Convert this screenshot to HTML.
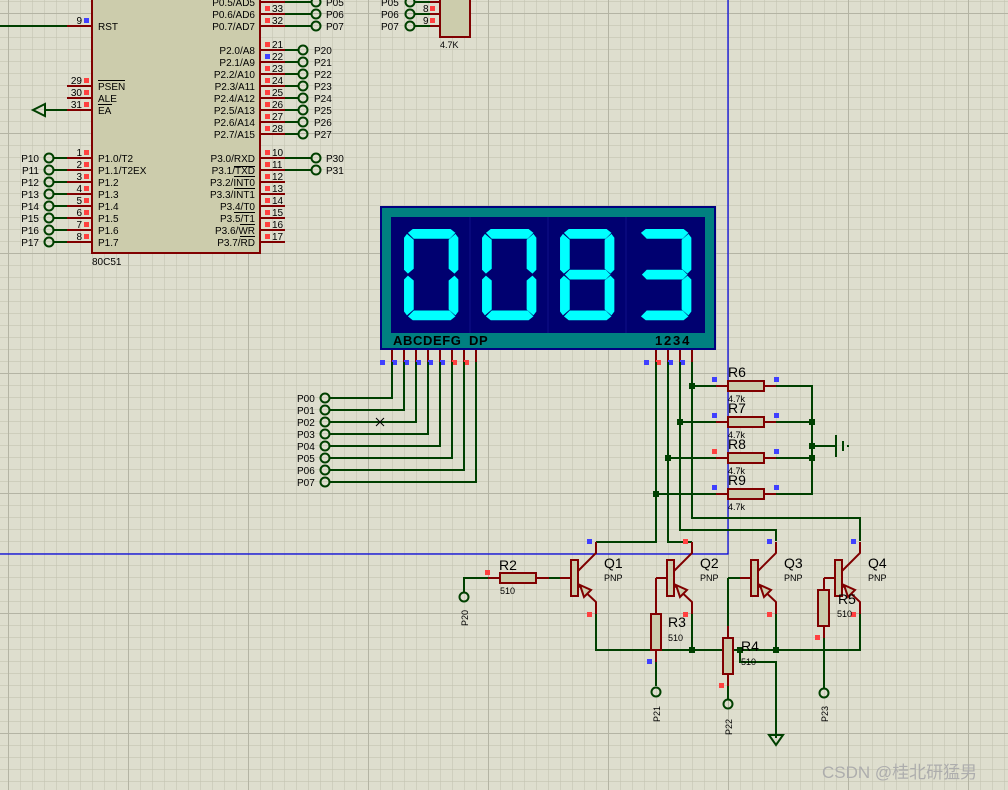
<!DOCTYPE html>
<html><head><meta charset="utf-8"><style>
html,body{margin:0;padding:0;background:#dedece;}
svg{display:block;}
text{font-family:"Liberation Sans","Noto Sans CJK SC",sans-serif;}
.p{font-size:10px;fill:#000;}
.s{font-size:9px;fill:#000;}
.b{font-size:14px;fill:#000;}
.r{stroke:#800000;stroke-width:2;fill:none;}
.g{stroke:#004000;stroke-width:2;fill:none;}
.body{fill:#ccccac;stroke:#800000;stroke-width:2;}
.c{fill:none;stroke:#004000;stroke-width:2;}
.mr{fill:#ff4040;}
.mb{fill:#4040ff;}
.seg{fill:#00ffff;}
</style></head><body>
<svg width="1008" height="790" viewBox="0 0 1008 790" xmlns="http://www.w3.org/2000/svg">
<defs>
<pattern id="mn" x="8" y="1" width="12" height="12" patternUnits="userSpaceOnUse"><path d="M0 0H12M0 0V12" stroke="#c4c4b2" stroke-width="1.2"/></pattern>
<pattern id="mj" x="8" y="13" width="120" height="120" patternUnits="userSpaceOnUse"><path d="M0 0H120M0 0V120" stroke="#b4b4a4" stroke-width="2"/></pattern>
<g id="sa"><polygon points="3,3 8,-1 47,-1 52,3 46,9 9,9"/></g>
<g id="sb"><polygon points="52,4 55,8 55,41 51,45 45,40 45,10"/></g>
<g id="sc"><polygon points="51,47 55,51 55,84 52,88 45,82 45,52"/></g>
<g id="sd"><polygon points="3,89 9,83 46,83 52,89 47,93 8,93"/></g>
<g id="se"><polygon points="3,47 9,52 9,82 2,88 -1,84 -1,51"/></g>
<g id="sf"><polygon points="2,4 9,10 9,40 3,45 -1,41 -1,8"/></g>
<g id="sg"><polygon points="4,46 9,41 46,41 51,46 46,51 9,51"/></g>
</defs>
<rect width="1008" height="790" fill="#dedece"/>
<rect width="1008" height="790" fill="url(#mn)"/>
<rect width="1008" height="790" fill="url(#mj)"/>

<path d="M728 0V554H0" stroke="#0000e0" stroke-width="1.2" fill="none"/>

<rect x="92" y="-5" width="168" height="258" class="body"/>
<text x="92" y="265" class="p">80C51</text>
<path d="M0 26H67" class="g"/><path d="M67 26H92" class="r"/>
<text x="82" y="24" class="p" text-anchor="end">9</text><rect x="84" y="18" width="5" height="5" class="mb"/>
<text x="98" y="30" class="p">RST</text>
<path d="M67 86H92M67 98H92M67 110H92" class="r"/>
<text x="82" y="84" class="p" text-anchor="end">29</text><rect x="84" y="78" width="5" height="5" class="mr"/>
<text x="82" y="96" class="p" text-anchor="end">30</text><rect x="84" y="90" width="5" height="5" class="mr"/>
<text x="82" y="108" class="p" text-anchor="end">31</text><rect x="84" y="102" width="5" height="5" class="mr"/>
<text x="98" y="90" class="p">PSEN</text><path d="M98 80.5H125" stroke="#000" stroke-width="1"/>
<text x="98" y="102" class="p">ALE</text>
<text x="98" y="114" class="p">EA</text><path d="M98 104.5H112" stroke="#000" stroke-width="1"/>
<path d="M45 110H67" class="g"/><polygon points="33,110 45,104 45,116" class="c"/>
<g>
<path d="M54 158H67M54 170H67M54 182H67M54 194H67M54 206H67M54 218H67M54 230H67M54 242H67" class="g"/>
<path d="M67 158H92M67 170H92M67 182H92M67 194H92M67 206H92M67 218H92M67 230H92M67 242H92" class="r"/>
<circle cx="49" cy="158" r="4.5" class="c"/><circle cx="49" cy="170" r="4.5" class="c"/><circle cx="49" cy="182" r="4.5" class="c"/><circle cx="49" cy="194" r="4.5" class="c"/><circle cx="49" cy="206" r="4.5" class="c"/><circle cx="49" cy="218" r="4.5" class="c"/><circle cx="49" cy="230" r="4.5" class="c"/><circle cx="49" cy="242" r="4.5" class="c"/>
<text class="p" text-anchor="end" x="39" y="162">P10</text><text class="p" text-anchor="end" x="39" y="174">P11</text><text class="p" text-anchor="end" x="39" y="186">P12</text><text class="p" text-anchor="end" x="39" y="198">P13</text><text class="p" text-anchor="end" x="39" y="210">P14</text><text class="p" text-anchor="end" x="39" y="222">P15</text><text class="p" text-anchor="end" x="39" y="234">P16</text><text class="p" text-anchor="end" x="39" y="246">P17</text>
<text class="p" text-anchor="end" x="82" y="156">1</text><text class="p" text-anchor="end" x="82" y="168">2</text><text class="p" text-anchor="end" x="82" y="180">3</text><text class="p" text-anchor="end" x="82" y="192">4</text><text class="p" text-anchor="end" x="82" y="204">5</text><text class="p" text-anchor="end" x="82" y="216">6</text><text class="p" text-anchor="end" x="82" y="228">7</text><text class="p" text-anchor="end" x="82" y="240">8</text>
<rect x="84" y="150" width="5" height="5" class="mr"/><rect x="84" y="162" width="5" height="5" class="mr"/><rect x="84" y="174" width="5" height="5" class="mr"/><rect x="84" y="186" width="5" height="5" class="mr"/><rect x="84" y="198" width="5" height="5" class="mr"/><rect x="84" y="210" width="5" height="5" class="mr"/><rect x="84" y="222" width="5" height="5" class="mr"/><rect x="84" y="234" width="5" height="5" class="mr"/>
<text class="p" x="98" y="162">P1.0/T2</text><text class="p" x="98" y="174">P1.1/T2EX</text><text class="p" x="98" y="186">P1.2</text><text class="p" x="98" y="198">P1.3</text><text class="p" x="98" y="210">P1.4</text><text class="p" x="98" y="222">P1.5</text><text class="p" x="98" y="234">P1.6</text><text class="p" x="98" y="246">P1.7</text>
</g>
<path d="M260 2H285M260 14H285M260 26H285" class="r"/>
<path d="M285 2H311M285 14H311M285 26H311" class="g"/>
<circle cx="316" cy="2" r="4.5" class="c"/><circle cx="316" cy="14" r="4.5" class="c"/><circle cx="316" cy="26" r="4.5" class="c"/>
<text class="p" x="326" y="6">P05</text><text class="p" x="326" y="18">P06</text><text class="p" x="326" y="30">P07</text>
<text class="p" x="272" y="12">33</text><text class="p" x="272" y="24">32</text>
<rect x="265" y="6" width="5" height="5" class="mr"/><rect x="265" y="18" width="5" height="5" class="mr"/>
<text class="p" x="255" y="6" text-anchor="end">P0.5/AD5</text><text class="p" x="255" y="18" text-anchor="end">P0.6/AD6</text><text class="p" x="255" y="30" text-anchor="end">P0.7/AD7</text>
<path d="M260 50H285M260 62H285M260 74H285M260 86H285M260 98H285M260 110H285M260 122H285M260 134H285" class="r"/>
<path d="M285 50H298M285 62H298M285 74H298M285 86H298M285 98H298M285 110H298M285 122H298M285 134H298" class="g"/>
<circle cx="303" cy="50" r="4.5" class="c"/><circle cx="303" cy="62" r="4.5" class="c"/><circle cx="303" cy="74" r="4.5" class="c"/><circle cx="303" cy="86" r="4.5" class="c"/><circle cx="303" cy="98" r="4.5" class="c"/><circle cx="303" cy="110" r="4.5" class="c"/><circle cx="303" cy="122" r="4.5" class="c"/><circle cx="303" cy="134" r="4.5" class="c"/>
<text class="p" x="314" y="54">P20</text><text class="p" x="314" y="66">P21</text><text class="p" x="314" y="78">P22</text><text class="p" x="314" y="90">P23</text><text class="p" x="314" y="102">P24</text><text class="p" x="314" y="114">P25</text><text class="p" x="314" y="126">P26</text><text class="p" x="314" y="138">P27</text>
<text class="p" x="272" y="48">21</text><text class="p" x="272" y="60">22</text><text class="p" x="272" y="72">23</text><text class="p" x="272" y="84">24</text><text class="p" x="272" y="96">25</text><text class="p" x="272" y="108">26</text><text class="p" x="272" y="120">27</text><text class="p" x="272" y="132">28</text>
<rect x="265" y="42" width="5" height="5" class="mr"/><rect x="265" y="54" width="5" height="5" class="mb"/><rect x="265" y="66" width="5" height="5" class="mr"/><rect x="265" y="78" width="5" height="5" class="mr"/><rect x="265" y="90" width="5" height="5" class="mr"/><rect x="265" y="102" width="5" height="5" class="mr"/><rect x="265" y="114" width="5" height="5" class="mr"/><rect x="265" y="126" width="5" height="5" class="mr"/>
<text class="p" text-anchor="end" x="255" y="54">P2.0/A8</text><text class="p" text-anchor="end" x="255" y="66">P2.1/A9</text><text class="p" text-anchor="end" x="255" y="78">P2.2/A10</text><text class="p" text-anchor="end" x="255" y="90">P2.3/A11</text><text class="p" text-anchor="end" x="255" y="102">P2.4/A12</text><text class="p" text-anchor="end" x="255" y="114">P2.5/A13</text><text class="p" text-anchor="end" x="255" y="126">P2.6/A14</text><text class="p" text-anchor="end" x="255" y="138">P2.7/A15</text>
<path d="M260 158H285M260 170H285M260 182H285M260 194H285M260 206H285M260 218H285M260 230H285M260 242H285" class="r"/>
<path d="M285 158H311M285 170H311" class="g"/>
<circle cx="316" cy="158" r="4.5" class="c"/><circle cx="316" cy="170" r="4.5" class="c"/>
<text class="p" x="326" y="162">P30</text><text class="p" x="326" y="174">P31</text>
<text class="p" x="272" y="156">10</text><text class="p" x="272" y="168">11</text><text class="p" x="272" y="180">12</text><text class="p" x="272" y="192">13</text><text class="p" x="272" y="204">14</text><text class="p" x="272" y="216">15</text><text class="p" x="272" y="228">16</text><text class="p" x="272" y="240">17</text>
<rect x="265" y="150" width="5" height="5" class="mr"/><rect x="265" y="162" width="5" height="5" class="mr"/><rect x="265" y="174" width="5" height="5" class="mr"/><rect x="265" y="186" width="5" height="5" class="mr"/><rect x="265" y="198" width="5" height="5" class="mr"/><rect x="265" y="210" width="5" height="5" class="mr"/><rect x="265" y="222" width="5" height="5" class="mr"/><rect x="265" y="234" width="5" height="5" class="mr"/>
<text class="p" text-anchor="end" x="255" y="162">P3.0/RXD</text><text class="p" text-anchor="end" x="255" y="174">P3.1/TXD</text><text class="p" text-anchor="end" x="255" y="186">P3.2/INT0</text><text class="p" text-anchor="end" x="255" y="198">P3.3/INT1</text><text class="p" text-anchor="end" x="255" y="210">P3.4/T0</text><text class="p" text-anchor="end" x="255" y="222">P3.5/T1</text><text class="p" text-anchor="end" x="255" y="234">P3.6/WR</text><text class="p" text-anchor="end" x="255" y="246">P3.7/RD</text>
<path d="M234 166.5H255M234 176.5H255M234 188.5H255M234 212.5H255M240 224.5H255M240 236.5H255" stroke="#000" stroke-width="1"/>

<rect x="440" y="-5" width="30" height="42" class="body"/>
<path d="M415 2H430M415 14H430M415 26H430" class="g"/><path d="M430 2H440M430 14H440M430 26H440" class="r"/>
<circle cx="410" cy="2" r="4.5" class="c"/><circle cx="410" cy="14" r="4.5" class="c"/><circle cx="410" cy="26" r="4.5" class="c"/>
<text class="p" x="381" y="6">P05</text><text class="p" x="381" y="18">P06</text><text class="p" x="381" y="30">P07</text>
<text class="p" x="423" y="12">8</text><text class="p" x="423" y="24">9</text>
<rect x="430" y="6" width="5" height="5" class="mr"/><rect x="430" y="18" width="5" height="5" class="mr"/>
<text class="s" x="440" y="48">4.7K</text>

<rect x="381" y="207" width="334" height="142" fill="#008080" stroke="#000080" stroke-width="2"/>
<rect x="391" y="217" width="314" height="116" fill="#000070"/>
<path d="M470 217V333M548 217V333M626 217V333" stroke="#101088" stroke-width="1"/>
<g class="seg">
<g transform="translate(405,230) scale(0.97)"><use href="#sa"/><use href="#sb"/><use href="#sc"/><use href="#sd"/><use href="#se"/><use href="#sf"/></g>
<g transform="translate(483,230) scale(0.97)"><use href="#sa"/><use href="#sb"/><use href="#sc"/><use href="#sd"/><use href="#se"/><use href="#sf"/></g>
<g transform="translate(561,230) scale(0.97)"><use href="#sa"/><use href="#sb"/><use href="#sc"/><use href="#sd"/><use href="#se"/><use href="#sf"/><use href="#sg"/></g>
<g transform="translate(638,230) scale(0.97)"><use href="#sa"/><use href="#sb"/><use href="#sc"/><use href="#sd"/><use href="#sg"/></g>
</g>
<text x="393" y="345" style="font-size:13px;font-weight:bold;letter-spacing:0.6px" fill="#000">ABCDEFG</text>
<text x="469" y="345" style="font-size:13px;font-weight:bold;letter-spacing:0.6px" fill="#000">DP</text>
<text x="655" y="345" style="font-size:13px;font-weight:bold;letter-spacing:1.8px" fill="#000">1234</text>
<path d="M392 350V362M404 350V362M416 350V362M428 350V362M440 350V362M452 350V362M464 350V362M476 350V362M656 350V362M668 350V362M680 350V362M692 350V362" class="r"/>
<rect x="380" y="360" width="5" height="5" class="mb"/><rect x="392" y="360" width="5" height="5" class="mb"/><rect x="404" y="360" width="5" height="5" class="mb"/><rect x="416" y="360" width="5" height="5" class="mb"/><rect x="428" y="360" width="5" height="5" class="mb"/><rect x="440" y="360" width="5" height="5" class="mb"/><rect x="452" y="360" width="5" height="5" class="mr"/><rect x="464" y="360" width="5" height="5" class="mr"/>
<rect x="644" y="360" width="5" height="5" class="mb"/><rect x="656" y="360" width="5" height="5" class="mr"/><rect x="668" y="360" width="5" height="5" class="mb"/><rect x="680" y="360" width="5" height="5" class="mb"/>
<path d="M392 362V398H330M404 362V410H330M416 362V422H330M428 362V434H330M440 362V446H330M452 362V458H330M464 362V470H330M476 362V482H330" class="g"/>
<circle cx="325" cy="398" r="4.5" class="c"/><circle cx="325" cy="410" r="4.5" class="c"/><circle cx="325" cy="422" r="4.5" class="c"/><circle cx="325" cy="434" r="4.5" class="c"/><circle cx="325" cy="446" r="4.5" class="c"/><circle cx="325" cy="458" r="4.5" class="c"/><circle cx="325" cy="470" r="4.5" class="c"/><circle cx="325" cy="482" r="4.5" class="c"/>
<text class="p" x="297" y="402">P00</text><text class="p" x="297" y="414">P01</text><text class="p" x="297" y="426">P02</text><text class="p" x="297" y="438">P03</text><text class="p" x="297" y="450">P04</text><text class="p" x="297" y="462">P05</text><text class="p" x="297" y="474">P06</text><text class="p" x="297" y="486">P07</text>
<path d="M376 418L384 426M384 418L376 426" stroke="#000" stroke-width="1"/>

<path d="M692 362V518H860V541" class="g"/>
<path d="M680 362V530H776V541" class="g"/>
<path d="M668 362V542H692" class="g"/>
<path d="M656 362V542H596" class="g"/>
<path d="M692 386H716M680 422H716M668 458H716M656 494H716M776 386H812V494H776M776 422H812M776 458H812M812 446H836" class="g"/>
<path d="M836 435V457" stroke="#004000" stroke-width="2"/><path d="M843 441V451" stroke="#004000" stroke-width="2"/><rect x="847" y="445" width="2" height="2" fill="#004000"/>
<g fill="#004000"><rect x="689" y="383" width="6" height="6"/><rect x="677" y="419" width="6" height="6"/><rect x="665" y="455" width="6" height="6"/><rect x="653" y="491" width="6" height="6"/><rect x="809" y="419" width="6" height="6"/><rect x="809" y="455" width="6" height="6"/><rect x="809" y="443" width="6" height="6"/></g>
<path d="M716 386H728M764 386H776M716 422H728M764 422H776M716 458H728M764 458H776M716 494H728M764 494H776" class="r"/>
<rect x="728" y="381" width="36" height="10" class="body"/><rect x="728" y="417" width="36" height="10" class="body"/><rect x="728" y="453" width="36" height="10" class="body"/><rect x="728" y="489" width="36" height="10" class="body"/>
<rect x="712" y="377" width="5" height="5" class="mb"/><rect x="774" y="377" width="5" height="5" class="mb"/><rect x="712" y="413" width="5" height="5" class="mb"/><rect x="774" y="413" width="5" height="5" class="mb"/><rect x="712" y="449" width="5" height="5" class="mr"/><rect x="774" y="449" width="5" height="5" class="mb"/><rect x="712" y="485" width="5" height="5" class="mb"/><rect x="774" y="485" width="5" height="5" class="mb"/>
<text class="b" x="728" y="377">R6</text><text class="s" x="728" y="402">4.7k</text>
<text class="b" x="728" y="413">R7</text><text class="s" x="728" y="438">4.7k</text>
<text class="b" x="728" y="449">R8</text><text class="s" x="728" y="474">4.7k</text>
<text class="b" x="728" y="485">R9</text><text class="s" x="728" y="510">4.7k</text>

<path d="M464 592V578H488" class="g"/><circle cx="464" cy="597" r="4.5" class="c"/>
<text class="s" transform="translate(468,626) rotate(-90)">P20</text>
<path d="M488 578H500M536 578H549" class="r"/><path d="M549 578H560" class="g"/><path d="M560 578H571" class="r"/>
<rect x="500" y="573" width="36" height="10" class="body"/>
<rect x="485" y="570" width="5" height="5" class="mr"/>
<text class="b" x="499" y="570">R2</text><text class="s" x="500" y="594">510</text>
<g id="q1">
<rect x="571" y="560" width="7" height="36" class="body"/>
<path d="M596 542V553L578 571M578 585L596 602V614" class="r"/>
<polygon points="580,585 591,590 584,597" fill="#ccccac" stroke="#800000" stroke-width="2"/>
</g>
<use href="#q1" x="96"/><use href="#q1" x="180"/><use href="#q1" x="264"/>
<rect x="587" y="539" width="5" height="5" class="mb"/><rect x="587" y="612" width="5" height="5" class="mr"/>
<rect x="683" y="539" width="5" height="5" class="mr"/><rect x="683" y="612" width="5" height="5" class="mr"/>
<rect x="767" y="539" width="5" height="5" class="mb"/><rect x="767" y="612" width="5" height="5" class="mr"/>
<rect x="851" y="539" width="5" height="5" class="mb"/><rect x="851" y="612" width="5" height="5" class="mr"/>
<text class="b" x="604" y="568">Q1</text><text class="s" x="604" y="581">PNP</text>
<text class="b" x="700" y="568">Q2</text><text class="s" x="700" y="581">PNP</text>
<text class="b" x="784" y="568">Q3</text><text class="s" x="784" y="581">PNP</text>
<text class="b" x="868" y="568">Q4</text><text class="s" x="868" y="581">PNP</text>
<path d="M596 614V650H860V614M692 614V650M776 614V650" class="g"/>
<path d="M740 650V662H776V738" class="g"/>
<polygon points="769,735 783,735 776,745" class="c"/>
<g fill="#004000"><rect x="689" y="647" width="6" height="6"/><rect x="773" y="647" width="6" height="6"/><rect x="737" y="647" width="6" height="6"/></g>
<path d="M656 578H667M656 578V614M656 650V662" class="r"/>
<rect x="651" y="614" width="10" height="36" class="body"/>
<path d="M656 662V686" class="g"/><circle cx="656" cy="692" r="4.5" class="c"/>
<rect x="647" y="659" width="5" height="5" class="mb"/>
<text class="b" x="668" y="627">R3</text><text class="s" x="668" y="641">510</text>
<text class="s" transform="translate(660,722) rotate(-90)">P21</text>
<path d="M740 578H751" class="r"/><path d="M728 578H740M728 578V626" class="g"/><path d="M728 626V638M728 674V686" class="r"/>
<rect x="723" y="638" width="10" height="36" class="body"/>
<path d="M728 686V699" class="g"/><circle cx="728" cy="704" r="4.5" class="c"/>
<rect x="719" y="683" width="5" height="5" class="mr"/>
<text class="b" x="741" y="651">R4</text><text class="s" x="741" y="665">510</text>
<text class="s" transform="translate(732,735) rotate(-90)">P22</text>
<path d="M824 578H835M824 578V590M824 626V638" class="r"/>
<rect x="818" y="590" width="11" height="36" class="body"/>
<path d="M824 638V688" class="g"/><circle cx="824" cy="693" r="4.5" class="c"/>
<rect x="815" y="635" width="5" height="5" class="mr"/>
<text class="b" x="838" y="604">R5</text><text class="s" x="837" y="617">510</text>
<text class="s" transform="translate(828,722) rotate(-90)">P23</text>

<text x="822" y="778" style="font-size:17px" fill="#adadad">CSDN @桂北研猛男</text>
</svg>
</body></html>
